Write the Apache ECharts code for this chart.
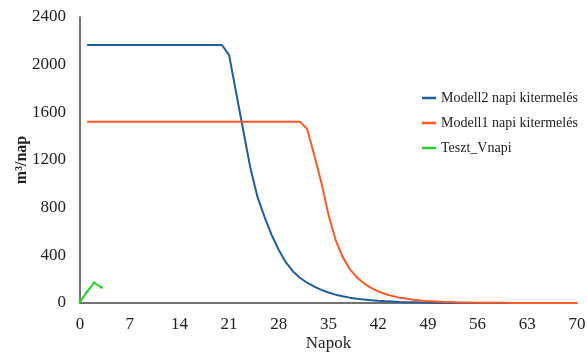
<!DOCTYPE html>
<html><head><meta charset="utf-8">
<script src="https://cdn.jsdelivr.net/npm/echarts@6/dist/echarts.min.js"></script>
<style>html,body{margin:0;padding:0;background:#fff}#c{width:587px;height:356px}</style>
</head><body><div id="c"></div>
<script>
var days = [];
for (var d = 1; d <= 70; d++) days.push(d);
var modell2 = [2165,2165,2165,2165,2165,2165,2165,2165,2165,2165,2165,2165,2165,2165,2165,2165,2165,2165,2165,2165,
  2080,1763,1446,1132,890,720,570,445,340,265,210,170,138,110,88,70,56,45,36,29,23,18,15,12,9,7,6,5,4,3,
  2,2,2,1,1,1,1,1,1,1,1,0,0,0,0,0,0,0,0,0];
var modell1 = [1520,1520,1520,1520,1520,1520,1520,1520,1520,1520,1520,1520,1520,1520,1520,1520,1520,1520,1520,1520,
  1520,1520,1520,1520,1520,1520,1520,1520,1520,1520,1520,
  1460,1240,1010,740,530,385,285,215,165,127,97,75,58,45,35,27,21,16,13,10,8,6,5,4,3,2,2,2,2,1,1,1,1,1,1,1,1,1,1];
var testDays = [0,1,2,3];
var testVals = [10,95,170,132];
var xTicks = [0,7,14,21,28,35,42,49,56,63,70];
var yTicks = [0,400,800,1200,1600,2000,2400];
var names = ['Modell2 napi kitermelés','Modell1 napi kitermelés','Teszt_Vnapi'];

function pairs(xs, ys){ return xs.map(function(x,i){ return [x, ys[i]]; }); }
var font = "'Liberation Serif','Times New Roman',serif";
var chart = echarts.init(document.getElementById('c'));
chart.setOption({
  animation: false,
  textStyle: {fontFamily: font, color: '#222'},
  grid: {left: 80, right: 10, top: 17, bottom: 53, containLabel: false, outerBoundsMode: 'none'},
  legend: {
    orient: 'vertical', left: 417, top: 86, itemWidth: 14, itemHeight: 2.5, itemGap: 11,
    icon: 'rect',
    textStyle: {fontFamily: font, fontSize: 14, color: '#222'},
    data: names
  },
  xAxis: {
    type: 'value', min: xTicks[0], max: xTicks[xTicks.length-1], interval: 7,
    name: 'Napok', nameLocation: 'middle', nameGap: 32, nameMoveOverlap: false,
    nameTextStyle: {fontFamily: font, fontSize: 17, color: '#222'},
    axisLine: {onZero: false, lineStyle: {color: '#444', width: 1.5}},
    axisTick: {show: false}, splitLine: {show: false},
    axisLabel: {fontFamily: font, fontSize: 17, color: '#222', margin: 13, formatter: function(v){ return String(v); }}
  },
  yAxis: {
    type: 'value', min: yTicks[0], max: yTicks[yTicks.length-1], interval: 400,
    name: 'm³/nap', nameLocation: 'middle', nameGap: 50, nameMoveOverlap: false,
    nameTextStyle: {fontFamily: font, fontSize: 16, fontWeight: 'bold', color: '#222'},
    axisLine: {show: true, lineStyle: {color: '#444', width: 1.5}},
    axisTick: {show: false}, splitLine: {show: false},
    axisLabel: {fontFamily: font, fontSize: 17, color: '#222', margin: 14, formatter: function(v){ return String(v); }}
  },
  series: [
    {name: names[0], type: 'line', data: pairs(days, modell2), showSymbol: false, symbol: 'none',
     lineStyle: {color: '#1f5c99', width: 2}, itemStyle: {color: '#1f5c99'}},
    {name: names[1], type: 'line', data: pairs(days, modell1), showSymbol: false, symbol: 'none',
     lineStyle: {color: '#ff5a26', width: 2}, itemStyle: {color: '#ff5a26'}},
    {name: names[2], type: 'line', data: pairs(testDays, testVals), symbol: 'circle', symbolSize: 3,
     lineStyle: {color: '#2ecc2e', width: 2}, itemStyle: {color: '#2ecc2e'}}
  ]
});
</script></body></html>
